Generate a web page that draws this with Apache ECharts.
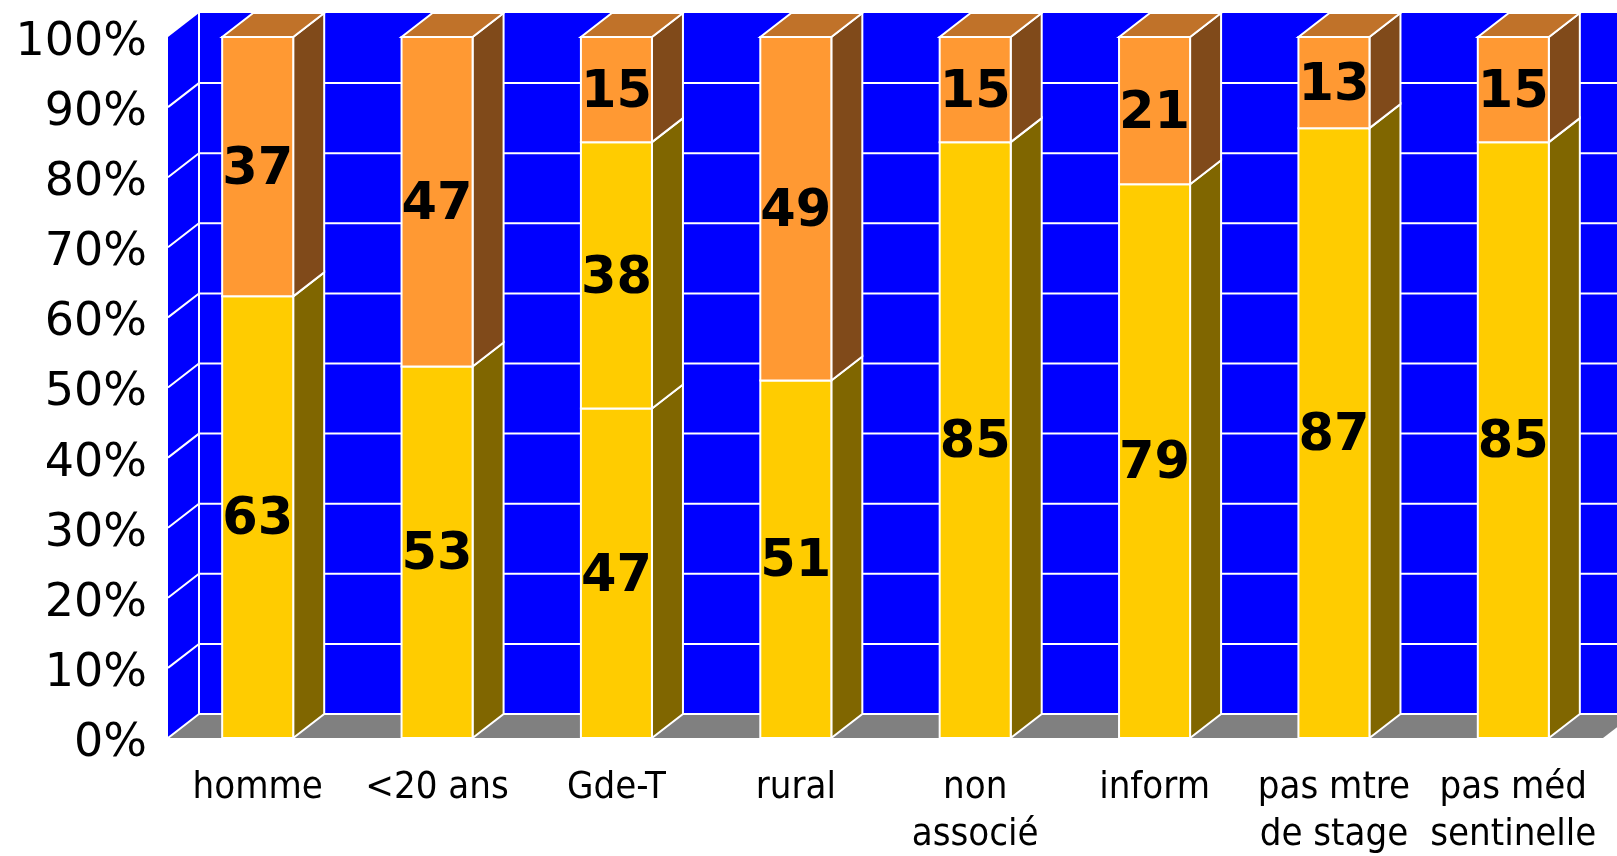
<!DOCTYPE html>
<html lang="fr">
<head>
<meta charset="UTF-8">
<title>Répartition</title>
<script src="https://cdn.jsdelivr.net/npm/echarts@6/dist/echarts.min.js"></script>
<style>
  html, body { margin: 0; padding: 0; background: #fff; }
  #chart { width: 1617px; height: 856px; }
</style>
</head>
<body>
<div id="chart"></div>
<script>
// données
const categories = ['homme', '<20 ans', 'Gde-T', 'rural', 'non\nassocié', 'inform', 'pas mtre\nde stage', 'pas méd\nsentinelle'];
const partBas = [63, 53, 47, 51, 85, 79, 87, 85];     // jaune
const partMilieu = [0, 0, 38, 0, 0, 0, 0, 0];        // jaune (Gde-T seulement)
const partHaut = [37, 47, 15, 49, 15, 21, 13, 15];   // orange
const yTicks = [0, 10, 20, 30, 40, 50, 60, 70, 80, 90, 100];

// effet 3D
const DX = 31, DY = 24;
const BAR_RATIO = 0.396;
const fontCond = "'DejaVu Sans Condensed', 'DejaVu Sans', sans-serif";
const fontStd = "'DejaVu Sans', sans-serif";

const colors = {
  yellow: { front: '#FFCC00', side: '#806600' },
  orange: { front: '#FF9933', side: '#804A1A', top: '#C07229' }
};

// empilement : [index, bas, haut, valeur]
function stackData(vals, bases) {
  return vals.map((v, i) => [i, bases[i], bases[i] + v, v]);
}
const base0 = categories.map(() => 0);
const base1 = partBas.slice();
const base2 = partBas.map((v, i) => v + partMilieu[i]);

function segmentRenderer(col, isTop) {
  return function (params, api) {
    const v = api.value(3);
    if (!v) return null;
    const i = api.value(0);
    const lo = api.coord([i, api.value(1)]);
    const hi = api.coord([i, api.value(2)]);
    const w = api.size([1, 0])[0] * BAR_RATIO;
    const xl = lo[0] - w / 2, xr = lo[0] + w / 2;
    const yb = lo[1], yt = hi[1];
    const children = [
      {
        type: 'polygon',
        shape: { points: [[xr, yt], [xr + DX, yt - DY], [xr + DX, yb - DY], [xr, yb]] },
        style: { fill: col.side, stroke: '#fff', lineWidth: 2 }
      },
      {
        type: 'rect',
        shape: { x: xl, y: yt, width: w, height: yb - yt },
        style: { fill: col.front, stroke: '#fff', lineWidth: 2 }
      }
    ];
    if (isTop) {
      children.push({
        type: 'polygon',
        shape: { points: [[xl, yt], [xl + DX, yt - DY], [xr + DX, yt - DY], [xr, yt]] },
        style: { fill: col.top, stroke: '#fff', lineWidth: 2 }
      });
    }
    children.push({
      type: 'text',
      x: lo[0], y: (yt + yb) / 2 + 4,
      style: {
        text: String(v), fill: '#000', font: 'bold 51px ' + fontStd,
        align: 'center', verticalAlign: 'middle'
      }
    });
    return { type: 'group', children: children };
  };
}

function wallsRenderer(params, api) {
  const cs = params.coordSys;
  const x0 = cs.x, x1 = cs.x + cs.width;
  const y0 = api.coord([0, 0])[1];
  const y100 = api.coord([0, 100])[1];
  const children = [
    // mur gauche
    {
      type: 'polygon',
      shape: { points: [[x0, y100], [x0 + DX, y100 - DY], [x0 + DX, y0 - DY], [x0, y0]] },
      style: { fill: '#0000FF' }
    },
    // mur du fond
    {
      type: 'rect',
      shape: { x: x0 + DX, y: y100 - DY, width: x1 - x0 + 20, height: y0 - y100 },
      style: { fill: '#0000FF' }
    },
    // sol
    {
      type: 'polygon',
      shape: { points: [[x0, y0], [x0 + DX, y0 - DY], [x1 + DX, y0 - DY], [x1, y0]] },
      style: { fill: '#808080' }
    },
    {
      type: 'line',
      shape: { x1: x0 + DX, y1: y100 - DY, x2: x0 + DX, y2: y0 - DY },
      style: { stroke: '#fff', lineWidth: 2 }
    }
  ];
  yTicks.forEach(t => {
    if (t === 100) return;
    const y = api.coord([0, t])[1];
    children.push({
      type: 'polyline',
      shape: { points: [[x0, y], [x0 + DX, y - DY], [x1 + DX + 20, y - DY]] },
      style: { stroke: '#fff', lineWidth: 2, fill: null }
    });
  });
  return { type: 'group', children: children };
}

const chart = echarts.init(document.getElementById('chart'));
chart.setOption({
  animation: false,
  grid: { left: 168, right: 14, top: 37, bottom: 118, containLabel: false, outerBoundsMode: 'none' },
  xAxis: {
    type: 'category',
    data: categories,
    axisLine: { show: false },
    axisTick: { show: false },
    axisLabel: {
      interval: 0, margin: 27, color: '#000',
      fontSize: 38, lineHeight: 47, fontFamily: fontCond
    }
  },
  yAxis: {
    type: 'value', min: 0, max: 100, interval: 10,
    axisLine: { show: false },
    axisTick: { show: false },
    splitLine: { show: false },
    axisLabel: {
      formatter: v => '{t|' + v + '%}', margin: 21,
      rich: {
        t: { color: '#000', fontSize: 46, fontFamily: fontStd, padding: [12, 0, 0, 0] }
      }
    }
  },
  series: [
    {
      type: 'custom', z: 1, silent: true,
      renderItem: wallsRenderer,
      data: [[0, 0]],
      encode: { x: 0, y: 1 }
    },
    {
      type: 'custom', z: 2,
      renderItem: segmentRenderer(colors.yellow, false),
      data: stackData(partBas, base0),
      encode: { x: 0, y: [1, 2] }
    },
    {
      type: 'custom', z: 2,
      renderItem: segmentRenderer(colors.yellow, false),
      data: stackData(partMilieu, base1),
      encode: { x: 0, y: [1, 2] }
    },
    {
      type: 'custom', z: 2,
      renderItem: segmentRenderer(colors.orange, true),
      data: stackData(partHaut, base2),
      encode: { x: 0, y: [1, 2] }
    }
  ]
});
</script>
</body>
</html>
